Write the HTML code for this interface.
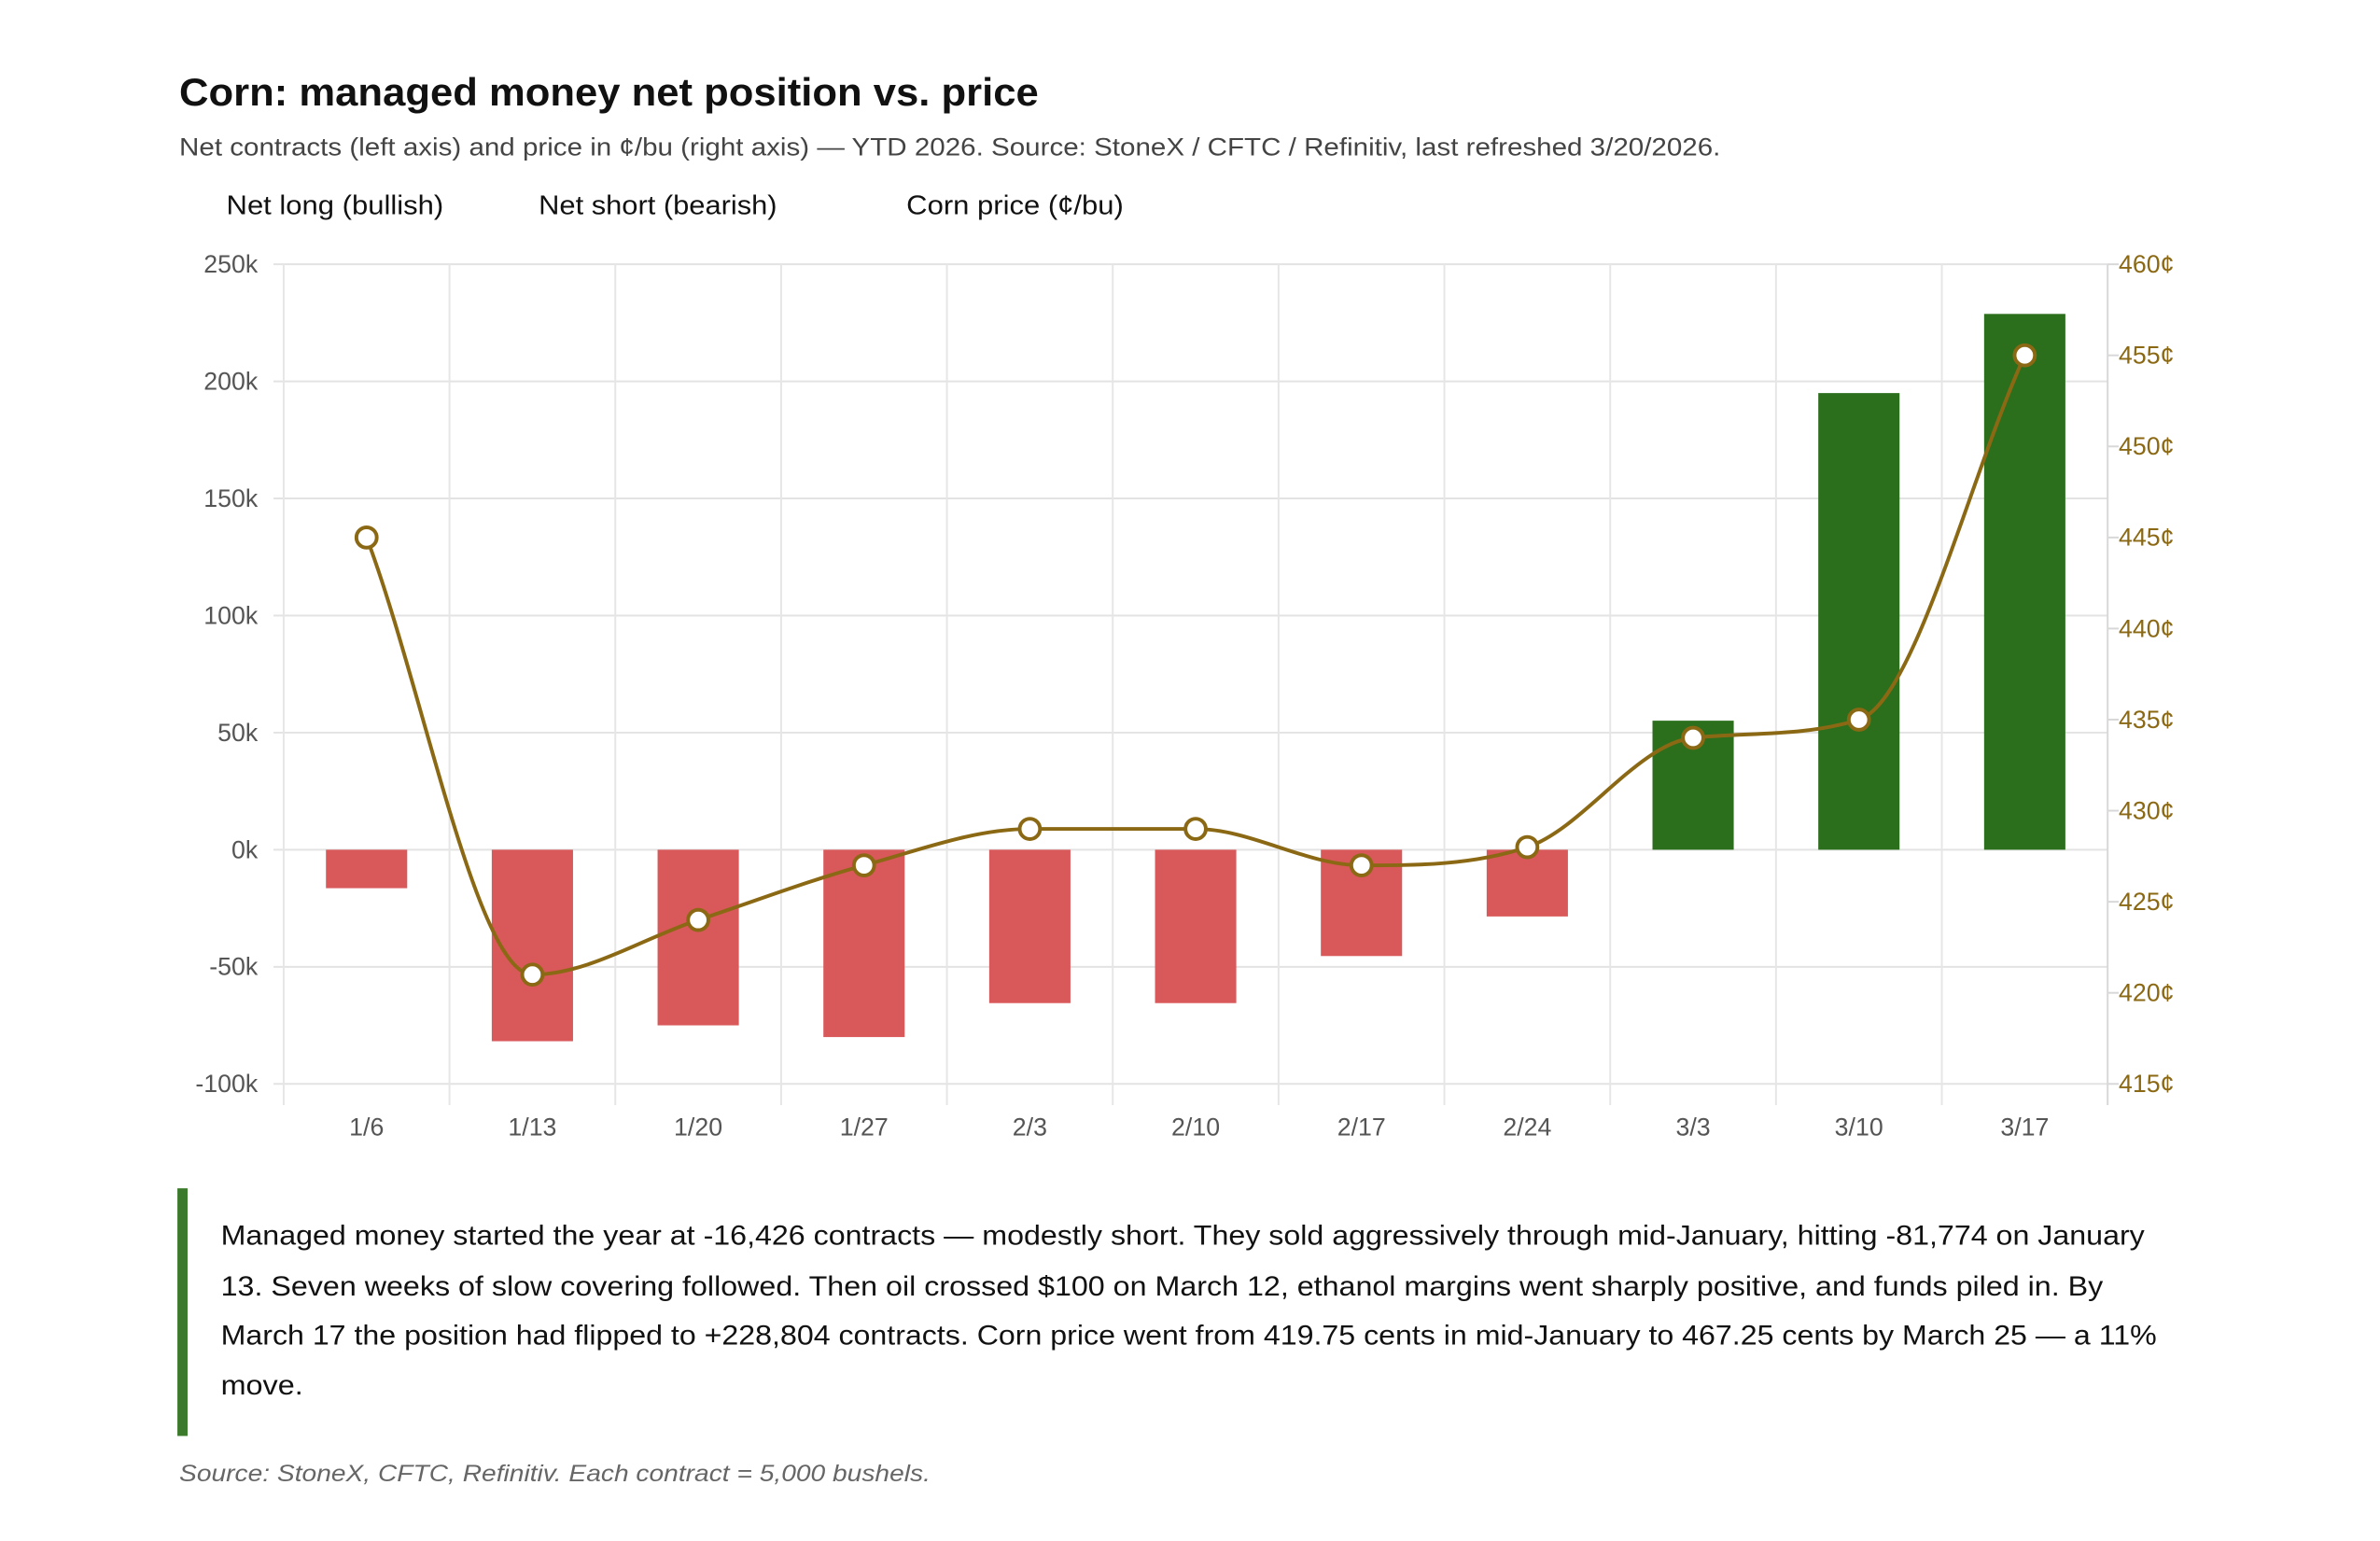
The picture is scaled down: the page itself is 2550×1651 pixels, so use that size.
<!DOCTYPE html>
<html><head><meta charset="utf-8"><style>
html,body{margin:0;padding:0;background:#fff;}
svg{display:block;font-family:"Liberation Sans",Arial,sans-serif;}
</style></head><body>
<svg id="chart" width="2550" height="1651" viewBox="0 0 2550 1651" xmlns="http://www.w3.org/2000/svg">
<rect width="2550" height="1651" fill="#fff"/>
<g transform="scale(0.99)">
<text x="194" y="114" font-size="42" font-weight="bold" fill="#111" textLength="930" lengthAdjust="spacingAndGlyphs">Corn: managed money net position vs. price</text>
<text x="194" y="168" font-size="27" fill="#444" textLength="1668" lengthAdjust="spacingAndGlyphs">Net contracts (left axis) and price in ¢/bu (right axis) — YTD 2026. Source: StoneX / CFTC / Refinitiv, last refreshed 3/20/2026.</text>
<text x="245" y="232" font-size="29" fill="#111" textLength="235" lengthAdjust="spacingAndGlyphs">Net long (bullish)</text>
<text x="583" y="232" font-size="29" fill="#111" textLength="258" lengthAdjust="spacingAndGlyphs">Net short (bearish)</text>
<text x="981" y="232" font-size="29" fill="#111" textLength="235" lengthAdjust="spacingAndGlyphs">Corn price (¢/bu)</text>
<g id="grid"></g>
<g id="bars"></g>
<g id="line"></g>
<g id="axes"></g>
<rect x="192" y="1286" width="11" height="268" fill="#3a7a2a"/>
<g font-size="30" fill="#111">
<text x="239" y="1347" textLength="2082" lengthAdjust="spacingAndGlyphs">Managed money started the year at -16,426 contracts — modestly short. They sold aggressively through mid-January, hitting -81,774 on January</text>
<text x="239" y="1402" textLength="2037" lengthAdjust="spacingAndGlyphs">13. Seven weeks of slow covering followed. Then oil crossed $100 on March 12, ethanol margins went sharply positive, and funds piled in. By</text>
<text x="239" y="1455" textLength="2095" lengthAdjust="spacingAndGlyphs">March 17 the position had flipped to +228,804 contracts. Corn price went from 419.75 cents in mid-January to 467.25 cents by March 25 — a 11%</text>
<text x="239" y="1509" textLength="89" lengthAdjust="spacingAndGlyphs">move.</text>
</g>
<text x="194" y="1603" font-size="25" font-style="italic" fill="#666" textLength="813" lengthAdjust="spacingAndGlyphs">Source: StoneX, CFTC, Refinitiv. Each contract = 5,000 bushels.</text>
</g>
</svg>
<script>
const categories = ["1/6","1/13","1/20","1/27","2/3","2/10","2/17","2/24","3/3","3/10","3/17"];
const netPosition = [-16426,-81774,-75000,-80000,-65500,-65500,-45400,-28500,55100,195000,228804];
const price = [445,421,424,427,429,429,427,428,434,435,455];
const leftTicks = [250000,200000,150000,100000,50000,0,-50000,-100000];
const leftTickLabels = ["250k","200k","150k","100k","50k","0k","-50k","-100k"];
const rightTicks = [460,455,450,445,440,435,430,425,420,415];

const NS="http://www.w3.org/2000/svg";
const L=307,R=2281,T=286,B=1173;
const band=(R-L)/categories.length;
const xC=i=>L+band*(i+0.5);
const yL=v=>B-(v-(-100000))/(350000)*(B-T);
const yR=v=>B-(v-415)/(45)*(B-T);
function mk(tag,attrs,parent){const e=document.createElementNS(NS,tag);for(const k in attrs)e.setAttribute(k,attrs[k]);parent.appendChild(e);return e;}
const grid=document.getElementById('grid'),bars=document.getElementById('bars'),line=document.getElementById('line'),axes=document.getElementById('axes');

leftTicks.forEach((v,i)=>{
  const g=mk('line',{x1:296,x2:R,y1:yL(v),y2:yL(v),stroke:'#e3e3e3','stroke-width':2},grid);
  
  
  const t=mk('text',{x:279,y:yL(v)+9,'text-anchor':'end','font-size':27,fill:'#555'},axes);
  t.textContent=leftTickLabels[i];
  
  
});
for(let i=0;i<=categories.length;i++){
  const x=L+band*i;
  const g=mk('line',{x1:x,x2:x,y1:T,y2:1196,stroke:i===categories.length?'#d8d8d8':'#e6e6e6','stroke-width':2},grid);
  
  
}
rightTicks.forEach(v=>{
  const tk=mk('line',{x1:R,x2:R+12,y1:yR(v),y2:yR(v),stroke:'#d8d8d8','stroke-width':2},axes);
  
  
  const t=mk('text',{x:R+12,y:yR(v)+9,'font-size':27,fill:'#8b6914'},axes);
  t.textContent=v+'¢';
  
  
});
categories.forEach((c,i)=>{
  const t=mk('text',{x:xC(i),y:1229,'text-anchor':'middle','font-size':27,fill:'#555'},axes);
  t.textContent=c;
  
  
});
const bw=band*0.49;
netPosition.forEach((v,i)=>{
  const y0=yL(0),y1=yL(v);
  const r=mk('rect',{x:xC(i)-bw/2,y:Math.min(y0,y1),width:bw,height:Math.abs(y1-y0),fill:v>=0?'#2b6e1c':'#d9585a'},bars);
  
  
});
const px=price.map((v,i)=>xC(i)),py=price.map(v=>yR(v));
const n=px.length,d=[],m=[];
for(let i=0;i<n-1;i++)d.push((py[i+1]-py[i])/(px[i+1]-px[i]));
for(let i=0;i<n;i++){
  if(i===0)m.push(d[0]);else if(i===n-1)m.push(d[n-2]);
  else m.push(d[i-1]*d[i]<=0?0:(d[i-1]+d[i])/2);
}
for(let i=0;i<n-1;i++){
  if(d[i]===0){m[i]=0;m[i+1]=0;continue;}
  const a=m[i]/d[i],b=m[i+1]/d[i],s=a*a+b*b;
  if(s>9){const t=3/Math.sqrt(s);m[i]=t*a*d[i];m[i+1]=t*b*d[i];}
}
let p='M'+px[0]+','+py[0];
for(let i=0;i<n-1;i++){
  const h=(px[i+1]-px[i])/3;
  p+=' C'+(px[i]+h)+','+(py[i]+m[i]*h)+' '+(px[i+1]-h)+','+(py[i+1]-m[i+1]*h)+' '+px[i+1]+','+py[i+1];
}
const pl=mk('path',{d:p,fill:'none',stroke:'#8b6914','stroke-width':4},line);


price.forEach((v,i)=>{
  const c=mk('circle',{cx:px[i],cy:py[i],r:11,fill:'#fff',stroke:'#8b6914','stroke-width':4},line);
  
  
});
</script>
</body></html>
